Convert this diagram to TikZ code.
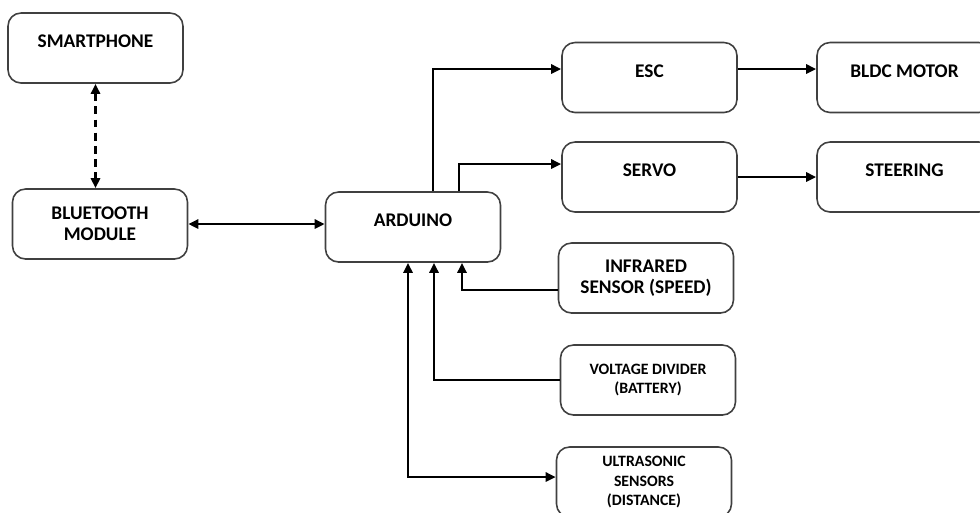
\documentclass[tikz,border=0pt]{standalone}
\usepackage{fontspec}
\setmainfont{Carlito}
\usetikzlibrary{arrows.meta}
\tikzset{ b/.style = { rectangle % block
        , rounded corners = 2.6mm
        , draw = black!75
        , line width = 0.9pt
        , minimum width = 3.5cm
        , minimum height = 1.4cm
        , align = center
        , font = \bfseries\fontsize{11}{12}\selectfont
        }
        , sm/.style = { font = \bfseries\fontsize{9}{11.3}\selectfont % small text
        }
        , up/.style = { text height = 1.6ex % text near the top
        , text depth = 0.28cm
        }
        }

\begin{document}
\begin{tikzpicture}[x=0.02cm, y=-0.02cm,
        edge_style/.style={draw=black, line width=1.6pt, -{Triangle[length=2mm,width=1.8mm]}},
        both_style/.style={draw=black, line width=1.6pt, {Triangle[length=2mm,width=1.8mm]}-{Triangle[length=2mm,width=1.8mm]}},
        dash_style/.style={both_style, dash pattern=on 4.5pt off 3pt}]
        \useasboundingbox (0,0) rectangle (980,512);

        \node [b,up] (phone) at (95.5,48) {SMARTPHONE};
        \node [b] (bt) at (100,224) {BLUETOOTH\\MODULE};
        \node [b,up] (ard) at (413,227) {ARDUINO};
        \node [b,up] (esc) at (649.5,77.5) {ESC};
        \node [b,up] (bldc) at (904.5,77.5) {BLDC MOTOR};
        \node [b,up] (servo) at (649.5,177) {SERVO};
        \node [b,up] (steer) at (904.5,177) {STEERING};
        \node [b] (ir) at (646,278) {INFRARED\\SENSOR (SPEED)};
        \node [b,sm] (vd) at (648,380) {VOLTAGE DIVIDER\\(BATTERY)};
        \node [b,sm] (us) at (644,482) {ULTRASONIC\\SENSORS\\(DISTANCE)};

        \draw [dash_style] (phone) -- (phone |- bt.north);
        \draw [both_style] (bt) -- (bt -| ard.west);
        \draw [edge_style] ([xshift=0.4cm]ard.north) |- ([yshift=0.17cm]esc.west);
        \draw [edge_style] ([xshift=0.92cm]ard.north) |- ([yshift=0.26cm]servo.west);
        \draw [edge_style] ([yshift=0.17cm]esc.east) -- ([yshift=0.17cm]bldc.west);
        \draw [edge_style] (servo) -- (steer);
        \draw [edge_style] ([yshift=-0.24cm]ir.west) -| ([xshift=0.98cm]ard.south);
        \draw [edge_style] (vd.west) -| ([xshift=0.42cm]ard.south);
        \draw [both_style] ([xshift=-0.1cm]ard.south) |- ([yshift=0.1cm]us.west);
\end{tikzpicture}
\end{document}
